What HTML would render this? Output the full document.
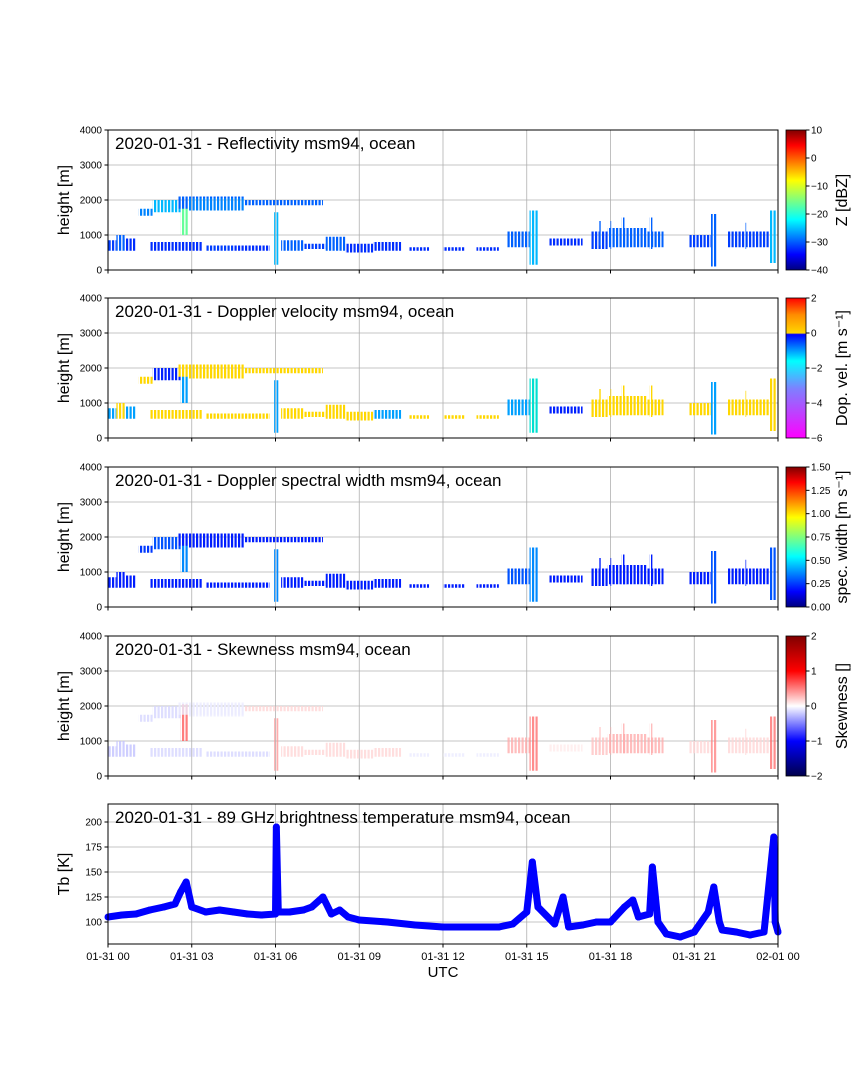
<!DOCTYPE html>
<html><head><meta charset="utf-8"><style>
body{margin:0;background:#fff;font-family:"Liberation Sans",sans-serif}
svg text{font-family:"Liberation Sans",sans-serif}
</style></head><body>
<svg id="s" width="864" height="1080" xmlns="http://www.w3.org/2000/svg">
<defs>
<linearGradient id="jet" x1="0" y1="1" x2="0" y2="0">
<stop offset="0" stop-color="#00007f"/><stop offset="0.11" stop-color="#0000ff"/><stop offset="0.36" stop-color="#00ffff"/><stop offset="0.5" stop-color="#7fff7f"/><stop offset="0.64" stop-color="#ffff00"/><stop offset="0.89" stop-color="#ff0000"/><stop offset="1" stop-color="#7f0000"/></linearGradient>
<linearGradient id="dop" x1="0" y1="1" x2="0" y2="0">
<stop offset="0" stop-color="#ff00ff"/><stop offset="0.35" stop-color="#7f7fff"/><stop offset="0.55" stop-color="#00ffff"/><stop offset="0.74" stop-color="#0000ff"/><stop offset="0.75" stop-color="#ffd700"/><stop offset="0.88" stop-color="#ff8c00"/><stop offset="1" stop-color="#ff0000"/></linearGradient>
<linearGradient id="seis" x1="0" y1="1" x2="0" y2="0">
<stop offset="0" stop-color="#00004c"/><stop offset="0.25" stop-color="#0000ff"/><stop offset="0.5" stop-color="#ffffff"/><stop offset="0.75" stop-color="#ff0000"/><stop offset="1" stop-color="#800000"/></linearGradient>
<pattern id="stripes" x="0" y="0" width="3.5" height="10" patternUnits="userSpaceOnUse">
<rect x="0" y="0" width="2.2" height="10" fill="#fff"/></pattern>
<mask id="streak" maskUnits="userSpaceOnUse" x="0" y="0" width="864" height="1080"><rect x="0" y="0" width="864" height="1080" fill="url(#stripes)"/></mask>
</defs>
</svg>
<script>
const panelTitles=["2020-01-31 - Reflectivity msm94, ocean","2020-01-31 - Doppler velocity msm94, ocean","2020-01-31 - Doppler spectral width msm94, ocean","2020-01-31 - Skewness msm94, ocean","2020-01-31 - 89 GHz brightness temperature msm94, ocean"];
const xTickLabels=["01-31 00","01-31 03","01-31 06","01-31 09","01-31 12","01-31 15","01-31 18","01-31 21","02-01 00"];
const hTicks=[0,1000,2000,3000,4000];
const tbTicks=[100,125,150,175,200];
// cloud segments: start hour, end hour, base m, top m
const segStart=[0.0,0.3,0.6,1.1,1.6,2.6,2.5,2.9,4.9,5.95,1.5,3.5,4.5,6.2,7.0,7.8,8.5,9.5,10.8,12.0,13.2,14.3,15.1,15.8,17.3,17.9,18.5,19.3,20.8,21.6,22.2,23.2,23.7,18.0,18.4,19.4,17.6,22.8];
const segEnd  =[0.3,0.6,1.0,1.6,2.6,2.9,4.9,4.9,7.7,6.1,3.4,4.5,5.8,7.0,7.8,8.5,9.5,10.5,11.5,12.8,14.0,15.1,15.4,17.0,17.9,18.6,19.3,19.9,21.6,21.8,23.2,23.7,23.95,18.06,18.5,19.5,17.66,22.86];
const segBase =[550,550,550,1550,1650,1000,1750,1700,1850,150,550,550,550,550,600,550,500,550,550,550,550,650,150,700,600,650,650,650,650,100,650,650,200,600,650,600,700,600];
const segTop  =[850,1000,900,1750,2000,2050,2100,2050,2000,1650,800,700,700,850,750,950,750,800,650,650,650,1100,1700,900,1100,1200,1200,1100,1000,1600,1100,1100,1700,1400,1500,1500,1400,1350];
const segZ    =[-32,-30,-33,-28,-25,-15,-30,-28,-30,-25,-33,-32,-33,-30,-32,-30,-33,-33,-33,-33,-33,-30,-25,-33,-32,-30,-30,-30,-32,-30,-32,-32,-25,-30,-30,-30,-30,-30];
const segV    =[-1,0.5,-1,0.5,-0.5,-2,0.5,0.3,0.5,-2,0.5,0.5,0.5,0.5,0.5,0.5,0.5,-1,0.5,0.5,0.5,-1.5,-2.5,-0.5,0.8,1,0.8,1,0.5,-2,0.5,0.5,0.8,1,1,1,0.5,0.5];
const segW    =[0.1,0.1,0.1,0.15,0.2,0.3,0.1,0.1,0.1,0.3,0.1,0.1,0.1,0.1,0.1,0.1,0.1,0.1,0.1,0.1,0.1,0.2,0.3,0.1,0.1,0.1,0.1,0.1,0.1,0.2,0.1,0.1,0.2,0.1,0.1,0.1,0.1,0.1];
const segS    =[-0.3,-0.3,-0.3,-0.2,-0.2,0.8,-0.1,-0.1,0.2,0.5,-0.2,-0.2,-0.2,0.2,0.2,0.2,0.2,0.2,-0.1,-0.1,-0.1,0.4,0.7,0.1,0.3,0.4,0.4,0.4,0.2,0.6,0.2,0.2,0.7,0.4,0.4,0.4,0.3,0.3];
const tbHours=[0,0.5,1,1.5,2,2.4,2.6,2.8,3,3.5,4,4.5,5,5.5,6,6.03,6.1,6.5,7,7.3,7.7,8,8.3,8.6,9,10,11,12,13,14,14.5,15,15.2,15.4,16,16.3,16.5,17,17.5,18,18.5,18.8,19,19.4,19.5,19.7,20,20.5,21,21.5,21.7,21.9,22,22.5,23,23.5,23.85,23.9,24];
const tbVals=[105,107,108,112,115,118,130,140,115,110,112,110,108,107,108,195,110,110,112,115,125,108,112,105,102,100,97,95,95,95,98,110,160,115,98,125,95,97,100,100,115,122,105,108,155,100,88,85,90,110,135,100,92,90,87,90,185,100,90];
const X0=108,X1=778,W=670;
const tops=[130,298,467,636,804],PH=140;
const s=document.getElementById('s');
const NS="http://www.w3.org/2000/svg";
function mk(t,a,p){const e=document.createElementNS(NS,t);for(const k in a)e.setAttribute(k,a[k]);(p||s).appendChild(e);return e;}
const xs=h=>X0+h/24*W;
function jet(v){v=Math.max(0,Math.min(1,v));const r=Math.min(4*v-1.5,-4*v+4.5),g=Math.min(4*v-0.5,-4*v+3.5),b=Math.min(4*v+0.5,-4*v+2.5);const c=x=>Math.round(255*Math.max(0,Math.min(1,x)));return `rgb(${c(r)},${c(g)},${c(b)})`;}
function dopC(v){if(v>=0)return v>1?"#ff8c00":"#ffd700";if(v>-1)return"#0020ff";if(v>-2.2)return"#00a0ff";return"#00e0d0";}
function seisC(v){const t=Math.max(-1,Math.min(1,v/2));if(t>=0){const k=Math.round(255*(1-t*1.6));return `rgb(255,${Math.max(0,k)},${Math.max(0,k)})`;}const k=Math.round(255*(1+t*1.6));return `rgb(${Math.max(0,k)},${Math.max(0,k)},255)`;}
const colorFns=[i=>jet((segZ[i]+40)/50*0.85+0.05),i=>dopC(segV[i]),i=>jet(segW[i]/1.5*0.8+0.1),i=>seisC(segS[i])];
const cbars=[{g:"url(#jet)",ticks:[10,0,-10,-20,-30,-40],min:-40,max:10,lab:"Z [dBZ]"},{g:"url(#dop)",ticks:[2,0,-2,-4,-6],min:-6,max:2,lab:"Dop. vel. [m s\u207B\u00B9]"},{g:"url(#jet)",ticks:[1.5,1.25,1,0.75,0.5,0.25,0],min:0,max:1.5,lab:"spec. width [m s\u207B\u00B9]",fmt:2},{g:"url(#seis)",ticks:[2,1,0,-1,-2],min:-2,max:2,lab:"Skewness []"}];
for(let p=0;p<5;p++){
  const T=tops[p],B=T+PH;
  const g=mk('g',{});
  for(let k=1;k<8;k++){const l=mk('line',{x1:xs(k*3),x2:xs(k*3),y1:T,y2:B,stroke:'#b0b0b0','stroke-width':0.8},g);}
  let ys,ticks;
  if(p<4){ys=v=>B-v/4000*PH;ticks=hTicks;}else{ys=v=>922-(v-100)*1.0;ticks=tbTicks;}
  ticks.forEach(v=>{const y=ys(v);if(y>T+0.5&&y<B-0.5){const l=mk('line',{x1:X0,x2:X1,y1:y,y2:y,stroke:'#b0b0b0','stroke-width':0.8},g);}
    mk('line',{x1:X0-3.5,x2:X0,y1:y,y2:y,stroke:'#000'},g);const t=mk('text',{x:X0-6,y:y+3.5,'font-size':10,'text-anchor':'end'},g);t.textContent=v;});
  if(p<4){
    const eg=mk('g',{mask:'url(#streak)'},g);
    for(let i=0;i<segStart.length;i++){const r=mk('rect',{x:xs(segStart[i]),y:ys(segTop[i]),width:xs(segEnd[i])-xs(segStart[i]),height:ys(segBase[i])-ys(segTop[i]),fill:colorFns[p](i),opacity:p==3?0.8:1},eg);}
    const cb=cbars[p];const r=mk('rect',{x:786,y:T,width:20,height:PH,fill:cb.g},g);
    mk('rect',{x:786,y:T,width:20,height:PH,fill:'none',stroke:'#000','stroke-width':0.8},g);
    cb.ticks.forEach(v=>{const y=B-(v-cb.min)/(cb.max-cb.min)*PH;mk('line',{x1:806,x2:809.5,y1:y,y2:y,stroke:'#000'},g);const t=mk('text',{x:811,y:y+3.5,'font-size':10},g);t.textContent=cb.fmt?v.toFixed(2):(v<0?'\u2212'+(-v):v);});
    const lt=mk('text',{x:0,y:0,'font-size':16,'text-anchor':'middle',transform:`translate(847,${T+PH/2}) rotate(-90)`},g);lt.textContent=cb.lab;
  }else{
    const pts=tbHours.map((h,i)=>xs(h)+','+ys(tbVals[i])).join(' ');
    const pl=mk('polyline',{points:pts,fill:'none',stroke:'#0000ff','stroke-width':7,'stroke-linejoin':'round'},g);
    tbHours.forEach((h,i)=>{const c=mk('circle',{cx:xs(h),cy:ys(tbVals[i]),r:3.5,fill:'#0000ff'},g);});
  }
  mk('rect',{x:X0,y:T,width:W,height:PH,fill:'none',stroke:'#000','stroke-width':1},g);
  for(let k=0;k<=8;k++)mk('line',{x1:xs(k*3),x2:xs(k*3),y1:B,y2:B+3.5,stroke:'#000'},g);
  const tt=mk('text',{x:115,y:T+19,'font-size':17},g);tt.textContent=panelTitles[p];
  const yl=mk('text',{x:0,y:0,'font-size':16,'text-anchor':'middle',transform:`translate(69,${T+PH/2}) rotate(-90)`},g);yl.textContent=p<4?'height [m]':'Tb [K]';
}
xTickLabels.forEach((l,k)=>{const t=mk('text',{x:xs(k*3),y:960,'font-size':11,'text-anchor':'middle'});t.textContent=l;});
const xt=mk('text',{x:443,y:977,'font-size':15,'text-anchor':'middle'});xt.textContent='UTC';


</script>
</body></html>
